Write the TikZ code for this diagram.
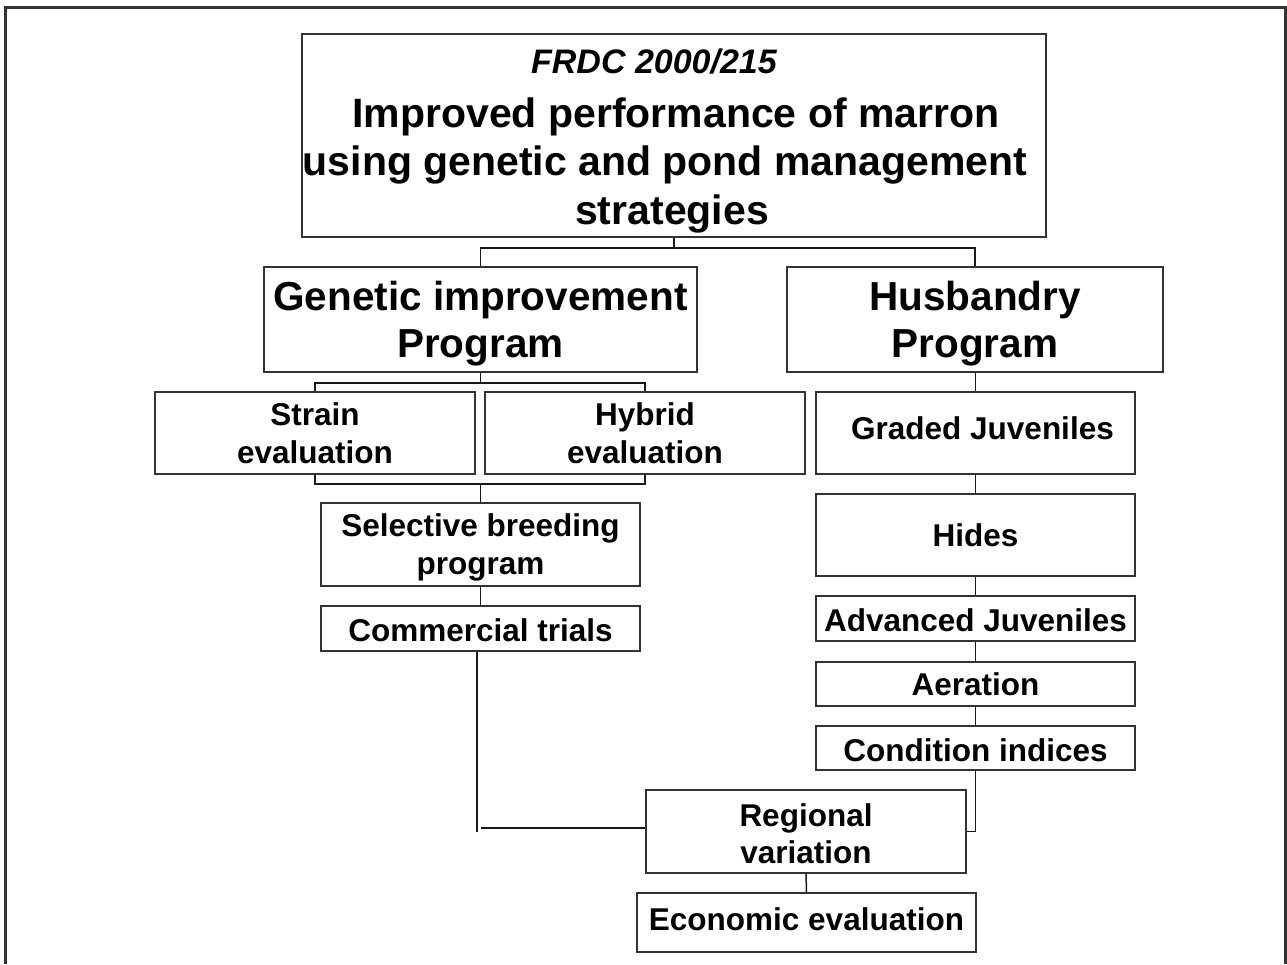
\documentclass[tikz,border=0pt]{standalone}
\usepackage{fontspec}
\setmainfont{Liberation Sans}
\begin{document}
\begin{tikzpicture}[x=1pt,y=-1pt,
  box/.style={draw=black!80, line width=1.4pt, inner sep=0pt, align=center, font=\bfseries\fontsize{31.5}{37.5}\selectfont},
  big/.style={box},
  bigtxt/.style={inner sep=0pt, align=center, font=\bfseries\fontsize{40.5}{47}\selectfont},
  smalltxt/.style={inner sep=0pt, align=center, font=\bfseries\fontsize{31.5}{37.5}\selectfont},
  conn/.style={draw=black!90, line width=1.5pt},
  frame/.style={draw=black!80, line width=3pt},
  ttl/.style={anchor=base, inner sep=0pt, font=\bfseries\fontsize{41}{41}\selectfont}]
\useasboundingbox (0,0) rectangle (1287,964);
\draw[frame] (5,964) -- (5,7) -- (1285,7) -- (1285,964);

% title box
\node[box, minimum width=744pt, minimum height=203pt] (top) at (674,135.5) {};
\node[ttl, font=\bfseries\itshape\fontsize{34}{40}\selectfont] (t0) at (654,73) {FRDC 2000/215};
\node[ttl] (t1) at (676,127) {Improved performance of marron};
\node[ttl] (t2) at (665,175) {using genetic and pond management};
\node[ttl] (t3) at (672,224) {strategies};

% programs
\node[big, minimum width=433pt, minimum height=105pt] (gen) at (480.5,319.5) {};
\node[bigtxt, yshift=-4pt] (gentxt) at (gen.center) {Genetic improvement\\Program};
\node[big, minimum width=376pt, minimum height=105pt] (hus) at (975,319.5) {};
\node[bigtxt, yshift=-4pt] (hustxt) at (hus.center) {Husbandry\\Program};

% genetic branch
\node[box, minimum width=320pt, minimum height=82pt] (strain) at (315,433) {Strain\\evaluation};
\node[box, minimum width=320pt, minimum height=82pt] (hybrid) at (645,433) {Hybrid\\evaluation};
\node[box, minimum width=319pt, minimum height=83pt] (sel) at (480.5,544.5) {};
\node[smalltxt, yshift=-3pt] (seltxt) at (sel.center) {Selective breeding\\program};
\node[box, minimum width=319pt, minimum height=45pt] (com) at (480.5,628.5) {};
\node[smalltxt, yshift=-2pt] (comtxt) at (com.center) {Commercial trials};

% husbandry branch
\node[box, minimum width=319pt, minimum height=82pt] (graded) at (975.5,433) {};
\node[smalltxt, yshift=5pt] (gradedtxt) at ([xshift=7pt]graded.center) {Graded Juveniles};
\node[box, minimum width=319pt, minimum height=82pt] (hides) at (975.5,535) {Hides};
\node[box, minimum width=319pt, minimum height=45pt] (adv) at (975.5,618.5) {};
\node[smalltxt, yshift=-1.5pt] (advtxt) at (adv.center) {Advanced Juveniles};
\node[box, minimum width=319pt, minimum height=44pt] (aer) at (975.5,684) {Aeration};
\node[box, minimum width=319pt, minimum height=44pt] (cond) at (975.5,748) {};
\node[smalltxt, yshift=-2pt] (condtxt) at (cond.center) {Condition indices};

% bottom
\node[box, minimum width=320pt, minimum height=83pt] (reg) at (806,831.5) {};
\node[smalltxt, yshift=-2pt] (regtxt) at (reg.center) {Regional\\variation};
\node[box, minimum width=339pt, minimum height=59pt] (eco) at (806.5,922.5) {};
\node[smalltxt, yshift=3pt] (ecotxt) at (eco.center) {Economic evaluation};

% connectors
\coordinate (j1) at (674,248);
\draw[conn] (top.south) -- (j1);
\draw[conn] (gen.north) |- (j1);
\draw[conn] (hus.north) |- (j1);

\coordinate (j2) at (480.5,383);
\draw[conn] (gen.south) -- (j2);
\draw[conn] (strain.north) |- (j2);
\draw[conn] (hybrid.north) |- (j2);

\coordinate (j3) at (480.5,484);
\draw[conn] (strain.south) |- (j3);
\draw[conn] (hybrid.south) |- (j3);
\draw[conn] (j3) -- (sel.north);
\draw[conn] (sel.south) -- (com.north);

\coordinate (c1) at (477,832);
\coordinate (c2) at (481,828);
\draw[conn] (com.south -| c1) -- (c1);
\draw[conn] (c2) -- (reg.west |- c2);

\draw[conn] (hus.south -| graded.north) -- (graded.north);
\draw[conn] (graded.south) -- (hides.north);
\draw[conn] (hides.south) -- (adv.north);
\draw[conn] (adv.south) -- (aer.north);
\draw[conn] (aer.south) -- (cond.north);
\draw[conn] (cond.south) |- (reg.east);
\draw[conn] (reg.south) -- (eco.north);
\end{tikzpicture}
\end{document}
